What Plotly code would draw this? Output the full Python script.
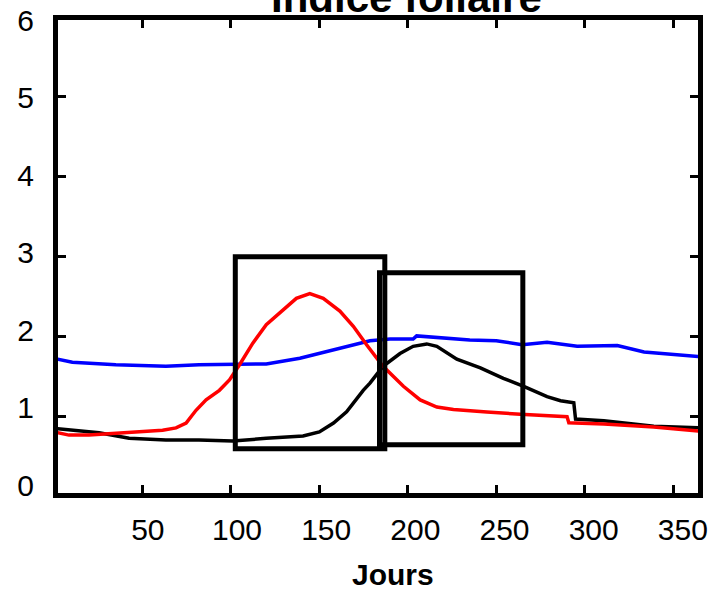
import plotly.graph_objects as go

# ---- data ----
days_blue = [0, 10.4, 35, 63.3, 82, 103, 120, 139, 158, 167, 178.6, 190, 203, 205, 222, 235, 250, 264.6, 278.7, 295.7, 318.4, 333.5, 365]
lai_blue = [1.73, 1.68, 1.65, 1.63, 1.65, 1.65, 1.66, 1.73, 1.84, 1.89, 1.95, 1.97, 1.97, 2.01, 1.98, 1.96, 1.95, 1.90, 1.93, 1.88, 1.89, 1.81, 1.75]

days_red = [0, 8.5, 19.8, 35, 50, 61.4, 69, 74.7, 80.3, 86, 93.5, 99.2, 104.9, 112.4, 120, 129.4, 137, 144.6, 152.2, 161.6,
            169.2, 176.7, 183.3, 186, 197.5, 207, 216.4, 225.8, 244.7, 263.6, 290, 291, 310.8, 339, 365]
lai_red = [0.81, 0.77, 0.77, 0.79, 0.82, 0.83, 0.86, 0.92, 1.08, 1.21, 1.33, 1.46, 1.65, 1.92, 2.15, 2.34, 2.48, 2.54, 2.48, 2.32,
           2.13, 1.90, 1.71, 1.63, 1.38, 1.21, 1.12, 1.09, 1.06, 1.03, 1.0, 0.925, 0.91, 0.87, 0.82]

days_black = [0, 25.5, 42.5, 63.3, 82, 101, 120, 140.8, 150, 158, 165.4, 174.8, 178.6, 186, 195.6, 203, 210.7, 216.4, 227.7,
              241, 254, 265.5, 278.7, 286.3, 293.8, 294.8, 310.8, 339, 365]
lai_black = [0.855, 0.80, 0.73, 0.71, 0.71, 0.695, 0.73, 0.76, 0.81, 0.92, 1.06, 1.33, 1.42, 1.63, 1.79, 1.88, 1.91, 1.88, 1.72,
             1.61, 1.48, 1.38, 1.25, 1.20, 1.175, 0.97, 0.95, 0.88, 0.86]

# highlighted periods (boxes)
box_x0 = [102.5, 184]
box_x1 = [187, 265]
box_y0 = [0.60, 0.65]
box_y1 = [3.0, 2.8]

x_ticks = [50, 100, 150, 200, 250, 300, 350]
y_ticks = [0, 1, 2, 3, 4, 5, 6]

FONT = "Liberation Sans, Arial, sans-serif"

fig = go.Figure()
for d, v, c in [(days_blue, lai_blue, "#0000ff"), (days_black, lai_black, "#000000"), (days_red, lai_red, "#ff0000")]:
    fig.add_trace(go.Scatter(x=d, y=v, mode="lines", line=dict(color=c, width=3.5), showlegend=False,
                             xaxis="x", yaxis="y"))
# invisible trace so the label-only overlay axes are drawn
fig.add_trace(go.Scatter(x=[None], y=[None], xaxis="x2", yaxis="y2", showlegend=False, hoverinfo="skip"))

for x0, x1, y0, y1 in zip(box_x0, box_x1, box_y0, box_y1):
    fig.add_shape(type="rect", xref="x", yref="y", x0=x0, x1=x1, y0=y0, y1=y1,
                  line=dict(color="black", width=5), fillcolor="rgba(0,0,0,0)")

frame = dict(showline=True, linecolor="black", linewidth=5, mirror="allticks",
             ticks="inside", ticklen=8, tickwidth=3, tickcolor="black",
             showgrid=False, zeroline=False, showticklabels=False, automargin=False)
labels = dict(showline=False, ticks="", showgrid=False, zeroline=False, automargin=False,
              tickfont=dict(family=FONT, size=30, color="black"))

fig.update_layout(
    xaxis=dict(range=[2.3, 364], tickvals=x_ticks, **frame),
    yaxis=dict(range=[0.046, 5.96], tickvals=y_ticks, **frame),
    # label axes (original figure's labels sit slightly off the tick marks)
    xaxis2=dict(overlaying="x", anchor="y2", side="bottom", range=[-0.39, 358.5],
                tickvals=x_ticks, ticktext=[str(t) for t in x_ticks], ticklabelstandoff=16, **labels),
    yaxis2=dict(overlaying="y", anchor="x2", side="left", range=[-0.103, 6.004],
                tickvals=y_ticks, ticktext=[str(t) for t in y_ticks], ticklabelstandoff=23, **labels),
)

fig.add_annotation(text="<b>Indice foliaire</b>", xref="paper", yref="paper",
                   x=0.544, y=0.9943, xanchor="center", yanchor="bottom", showarrow=False,
                   font=dict(family=FONT, size=42, color="black"))
fig.add_annotation(text="<b>Jours</b>", xref="paper", yref="paper",
                   x=0.524, y=-0.173, xanchor="center", yanchor="middle", showarrow=False,
                   font=dict(family=FONT, size=30, color="black"))

fig.update_layout(width=716, height=593, margin=dict(l=58, r=18, t=20, b=100),
                  paper_bgcolor="white", plot_bgcolor="white")

fig.write_html("out.html")
